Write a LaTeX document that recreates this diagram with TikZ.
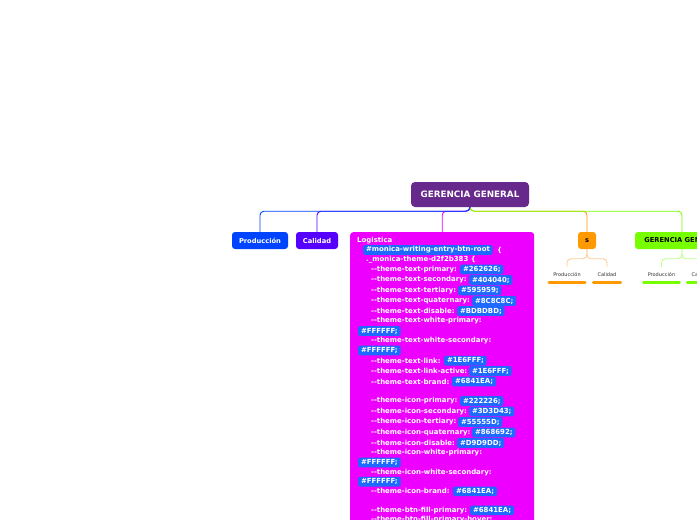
\documentclass[tikz,border=0pt]{standalone}
\usepackage{fontspec}
\setmainfont{DejaVu Sans}[Ligatures=TeXOff]
\definecolor{rootc}{RGB}{103,41,140}
\definecolor{prodc}{RGB}{0,68,255}
\definecolor{calc}{RGB}{85,0,255}
\definecolor{magc}{RGB}{238,0,255}
\definecolor{orc}{RGB}{255,153,0}
\definecolor{grc}{RGB}{119,255,0}
\definecolor{hlc}{RGB}{30,105,255}
\definecolor{suborc}{RGB}{255,205,150}
\definecolor{subgrc}{RGB}{190,255,140}
\definecolor{subtxt}{RGB}{50,50,50}
\tikzset{
  rootbox/.style={fill=rootc, rounded corners=4pt, minimum width=118pt, minimum height=25pt, inner sep=0pt, text=white, font=\bfseries\fontsize{8.8}{10}\selectfont},
  childbox/.style={rounded corners=3pt, minimum height=17pt, inner ysep=0pt, inner xsep=0pt, font=\bfseries\fontsize{6.7}{8}\selectfont},
  conn/.style={line width=0.9pt, rounded corners=4pt},
  subconn/.style={line width=0.9pt, rounded corners=4pt},
  subtext/.style={inner xsep=5.5pt, inner ysep=0pt, minimum height=15pt, text=subtxt, font=\fontsize{5}{6}\selectfont},
  subbar/.style={line width=2.6pt, line cap=round, shorten <=1.3pt, shorten >=1.3pt},
  ltext/.style={anchor=west, inner sep=0pt, text=white, font=\bfseries\fontsize{6.95}{8}\selectfont},
  hlbox/.style={anchor=west, fill=hlc, rounded corners=1.5pt, inner xsep=2.8pt, inner ysep=0pt, minimum height=9.6pt, text=white, font=\bfseries\fontsize{6.95}{8}\selectfont},
}
\begin{document}
\begin{tikzpicture}[x=1pt,y=-1pt]
\useasboundingbox (0,0) rectangle (697,520);
\clip (0,0) rectangle (697,520);
\fill[white] (0,0) rectangle (697,520);

% main nodes
\node[rootbox] (root) at (470,194.5) {GERENCIA GENERAL};
\node[childbox, fill=prodc, text=white, minimum width=56pt] (prod) at (260,240.5) {Producción};
\node[childbox, fill=calc, text=white, minimum width=42pt] (cal) at (317,240.5) {Calidad};
\node[fill=magc, rounded corners=3pt, minimum width=184pt, minimum height=310pt, inner sep=0pt, anchor=north west] (log) at (350,232) {};
\node[childbox, fill=orc, text=black, minimum width=18pt] (s) at (587,240.5) {s};
\node[childbox, fill=grc, text=black, minimum width=94pt] (gg) at (682,240.5) {GERENCIA GENERAL};

% connectors from root
\draw[conn, orc] (root.south) -- ++(0,4) -| (s.north);
\draw[conn, grc] (root.south) -- ++(0,4) -| (gg.north);
\draw[conn, magc] (root.south) -- ++(0,4) -| (log.north);
\draw[conn, calc] (root.south) -- ++(0,4) -| (cal.north);
\draw[conn, prodc] (root.south) -- ++(0,4) -| (prod.north);

% sub nodes of s
\node[subtext] (sp) at (567,274.5) {Producción};
\node[subtext] (sc) at (607,274.5) {Calidad};
\draw[subconn, suborc] (s.south) -- ++(0,9.5) -| (sp.north);
\draw[subconn, suborc] (s.south) -- ++(0,9.5) -| (sc.north);
\draw[subbar, orc] (sp.south west) -- (sp.south east);
\draw[subbar, orc] (sc.south west) -- (sc.south east);

% sub nodes of green
\node[subtext] (gp) at (661.5,274.5) {Producción};
\node[subtext] (gc) at (701,274.5) {Calidad};
\draw[subconn, subgrc] (gg.south) -- ++(0,9.5) -| (gp.north);
\draw[subconn, subgrc] (gg.south) -- ++(0,9.5) -| (gc.north);
\draw[subbar, grc] (gp.south west) -- (gp.south east);
\draw[subbar, grc] (gc.south west) -- (gc.south east);

% Logistica content
\node[ltext] (t1) at (357,240.5) {Logistica};
\node[hlbox] (h2) at (363,250) {\#monica-writing-entry-btn-root};
\node[ltext] (t2) at (497,250) {\{};
\node[ltext] (t3) at (366,259.5) {.\_monica-theme-d2f2b383 \{};
\node[ltext] (t4) at (371,269.5) {--theme-text-primary:};
\node[hlbox] (h4) at (460,269.5) {\#262626;};
\node[ltext] (t5) at (371,280) {--theme-text-secondary:};
\node[hlbox] (h5) at (469,280) {\#404040;};
\node[ltext] (t6) at (371,290.5) {--theme-text-tertiary:};
\node[hlbox] (h6) at (458,290.5) {\#595959;};
\node[ltext] (t7) at (371,301) {--theme-text-quaternary:};
\node[hlbox] (h7) at (472,301) {\#8C8C8C;};
\node[ltext] (t8) at (371,311) {--theme-text-disable:};
\node[hlbox] (h8) at (457,311) {\#BDBDBD;};
\node[ltext] (t9) at (371,321) {--theme-text-white-primary:};
\node[hlbox] (h10) at (358,331) {\#FFFFFF;};
\node[ltext] (t11) at (371,340.7) {--theme-text-white-secondary:};
\node[hlbox] (h12) at (358,350.5) {\#FFFFFF;};
\node[ltext] (t13) at (371,360.7) {--theme-text-link:};
\node[hlbox] (h13) at (444,360.7) {\#1E6FFF;};
\node[ltext] (t14) at (371,371) {--theme-text-link-active:};
\node[hlbox] (h14) at (469,371) {\#1E6FFF;};
\node[ltext] (t15) at (371,381.5) {--theme-text-brand:};
\node[hlbox] (h15) at (452,381.5) {\#6841EA;};
\node[ltext] (t16) at (371,401) {--theme-icon-primary:};
\node[hlbox] (h16) at (460,401) {\#222226;};
\node[ltext] (t17) at (371,411.5) {--theme-icon-secondary:};
\node[hlbox] (h17) at (469,411.5) {\#3D3D43;};
\node[ltext] (t18) at (371,422) {--theme-icon-tertiary:};
\node[hlbox] (h18) at (458,422) {\#55555D;};
\node[ltext] (t19) at (371,432.5) {--theme-icon-quaternary:};
\node[hlbox] (h19) at (472,432.5) {\#868692;};
\node[ltext] (t20) at (371,443) {--theme-icon-disable:};
\node[hlbox] (h20) at (457,443) {\#D9D9DD;};
\node[ltext] (t21) at (371,453) {--theme-icon-white-primary:};
\node[hlbox] (h22) at (358,462.5) {\#FFFFFF;};
\node[ltext] (t23) at (371,472.5) {--theme-icon-white-secondary:};
\node[hlbox] (h24) at (358,481.7) {\#FFFFFF;};
\node[ltext] (t25) at (371,491.3) {--theme-icon-brand:};
\node[hlbox] (h25) at (453,491.3) {\#6841EA;};
\node[ltext] (t26) at (371,510.3) {--theme-btn-fill-primary:};
\node[hlbox] (h26) at (470,510.3) {\#6841EA;};
\node[ltext] (t27) at (371,520) {--theme-btn-fill-primary-hover:};
\end{tikzpicture}
\end{document}
